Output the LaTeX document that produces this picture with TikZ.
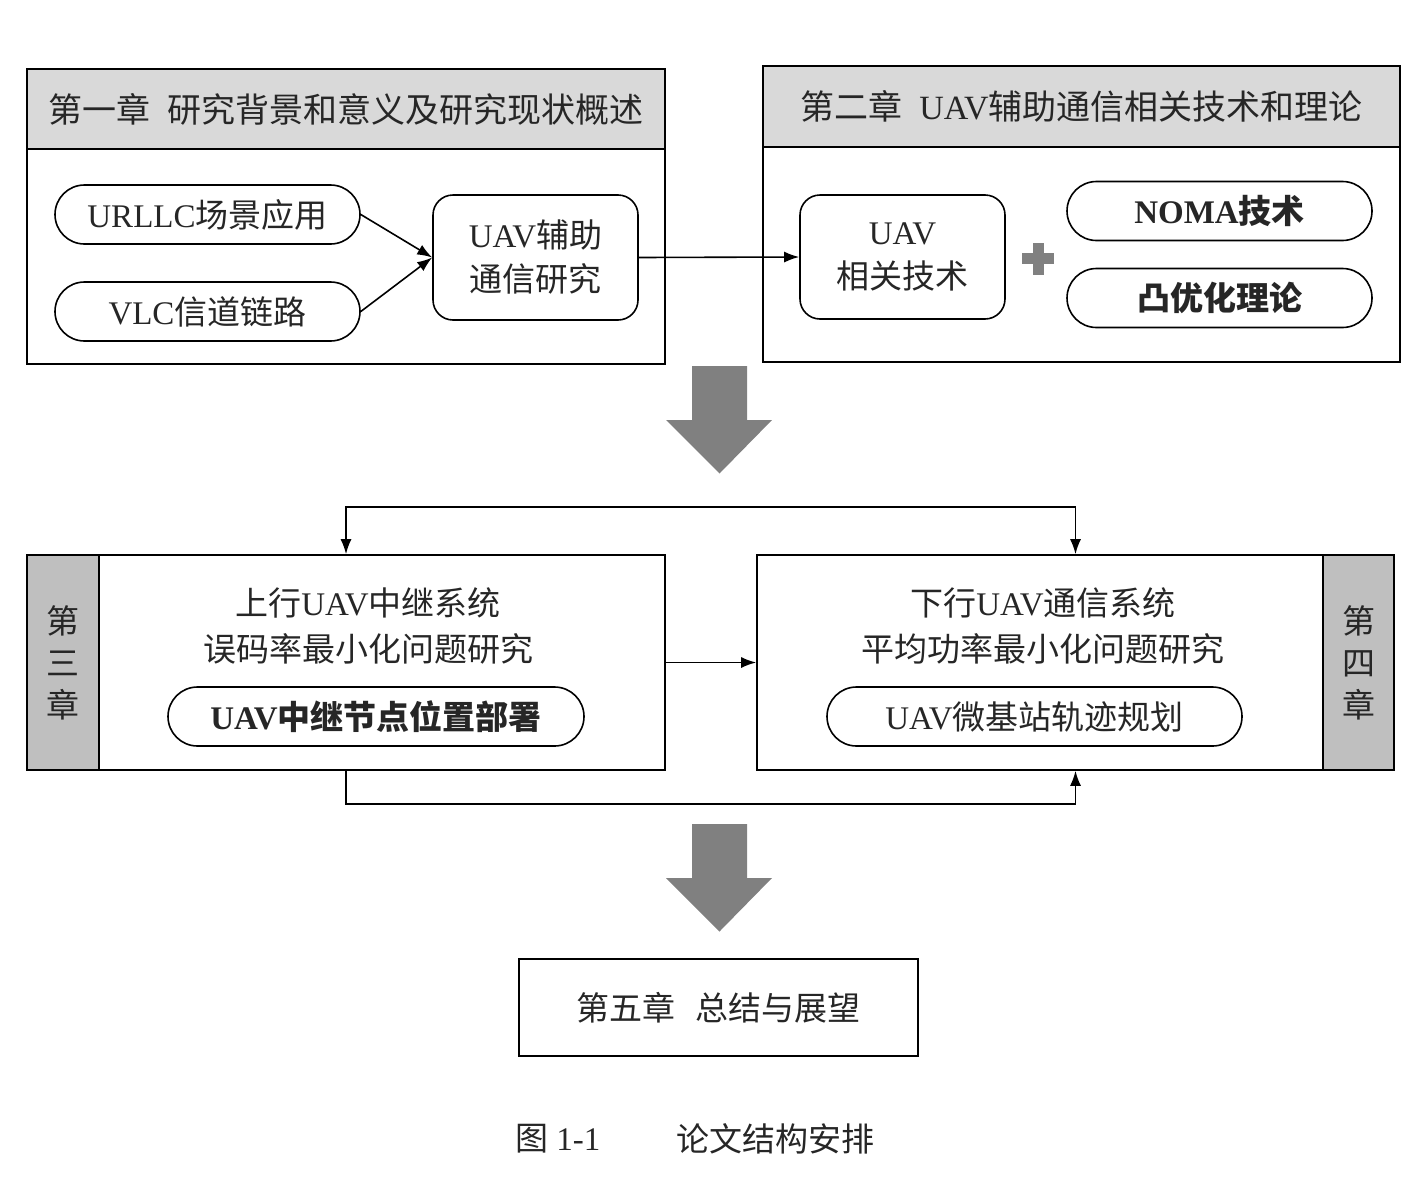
\documentclass[tikz,border=0pt]{standalone}
\usepackage{fontspec}
\setmainfont{Liberation Serif}
\newfontfamily\cjk{Noto Sans CJK SC}
\newcommand{\zh}[1]{{\cjk #1}}
\usetikzlibrary{arrows.meta,shapes.misc}

\begin{document}
\begin{tikzpicture}[x=1pt, y=-1pt]
	  \tikzstyle{every node} = [font=\fontsize{33}{44}\selectfont, text=black!85, align=center, inner sep=0pt]
	  \tikzstyle{frame} = [draw, line width=1.6pt, rectangle]
	  \tikzstyle{head} = [frame, fill=gray!30, font=\fontsize{34}{44}\selectfont]
	  \tikzstyle{side} = [frame, fill=gray!50, font=\fontsize{33}{42}\selectfont]
	  \tikzstyle{pill} = [draw, line width=1.6pt, rounded rectangle, minimum width=305pt, minimum height=59pt]
	  \tikzstyle{rbox} = [draw, line width=1.6pt, rounded corners=20pt, minimum width=205pt, minimum height=125pt]
	  \tikzstyle{link} = [line width=1.6pt, -{Latex[length=15pt,width=11pt]}]
	  \useasboundingbox (0,0) rectangle (1426,1202);
	  % chapter 1
	  \node[frame, minimum width=638pt, minimum height=295pt] (c1) at (346,216.5) {};
	  \node[head, minimum width=638pt, minimum height=80pt, anchor=north] (c1h) at (c1.north) {\zh{第一章}\hspace{0.5em}\zh{研究背景和意义及研究现状概述}};
	  \node[pill] (urllc) at (207.5,214.5) {URLLC\zh{场景应用}};
	  \node[pill] (vlc) at (207.5,311.5) {VLC\zh{信道链路}};
	  \node[rbox] (uavres) at (535.5,257.5) {UAV\zh{辅助}\\\zh{通信研究}};
	  % chapter 2
	  \node[frame, minimum width=637pt, minimum height=296pt] (c2) at (1081.5,214) {};
	  \node[head, minimum width=637pt, minimum height=81pt, anchor=north] (c2h) at (c2.north) {\zh{第二章}\hspace{0.5em}UAV\zh{辅助通信相关技术和理论}};
	  \node[rbox, minimum height=124pt] (uavtech) at (902.5,257) {UAV\\\zh{相关技术}};
	  \node[pill, font=\fontsize{33}{44}\selectfont\bfseries] (noma) at (1219.5,211) {NOMA\zh{技术}};
	  \node[pill, font=\fontsize{33}{44}\selectfont\bfseries] (convex) at (1219.5,298) {\zh{凸优化理论}};
	  \fill[gray] (1022,253) rectangle (1054,264);
	  \fill[gray] (1032.5,243) rectangle (1043.5,275);
	  % chapter 3
	  \node[frame, minimum width=638pt, minimum height=215pt] (c3) at (346,662.5) {};
	  \node[side, minimum width=72pt, minimum height=215pt, anchor=north west] (c3s) at (c3.north west) {\zh{第}\\\zh{三}\\\zh{章}};
	  \node[font=\fontsize{33}{46}\selectfont] (c3t) at (368,626) {\zh{上行}UAV\zh{中继系统}\\\zh{误码率最小化问题研究}};
	  \node[pill, minimum width=416pt, font=\fontsize{33}{44}\selectfont\bfseries] (relay) at (376,716.5) {UAV\zh{中继节点位置部署}};
	  % chapter 4
	  \node[frame, minimum width=637pt, minimum height=215pt] (c4) at (1075.5,662.5) {};
	  \node[side, minimum width=71pt, minimum height=215pt, anchor=north east] (c4s) at (c4.north east) {\zh{第}\\\zh{四}\\\zh{章}};
	  \node[font=\fontsize{33}{46}\selectfont] (c4t) at (1043,626) {\zh{下行}UAV\zh{通信系统}\\\zh{平均功率最小化问题研究}};
	  \node[pill, minimum width=415pt] (traj) at (1034.5,716.5) {UAV\zh{微基站轨迹规划}};
	  % chapter 5
	  \node[frame, minimum width=399pt, minimum height=97pt] (c5) at (718.5,1007.5) {\zh{第五章}\hspace{0.6em}\zh{总结与展望}};
	  \node[anchor=west] (cap1) at (515,1139) {\zh{图} 1-1};
	  \node[anchor=west] (cap2) at (676,1139) {\zh{论文结构安排}};
	  % links
	  \draw[link] (urllc.east) -- (uavres.west);
	  \draw[link] (vlc.east) -- (uavres.west);
	  \draw[link] (uavres.east) -- (uavtech.west);
	  \draw[link] (c3.east) -- (c4.west);
	  \coordinate (top) at (711,507);
	  \coordinate (bot) at (711,804);
	  \draw[link, {Latex[length=15pt,width=11pt]}-{Latex[length=15pt,width=11pt]}] (c3.north) |- (top) -| (c4.north);
	  \draw[link] (c3.south) |- (bot) -| (c4.south);
	  % big arrows
	  \foreach \y in {366,824}
	    \fill[gray] (692,\y) -- (747,\y) -- (747,\y+54) -- (772,\y+54) -- (719.5,\y+107.5) -- (666,\y+54) -- (692,\y+54) -- cycle;
	\end{tikzpicture}
\end{document}
